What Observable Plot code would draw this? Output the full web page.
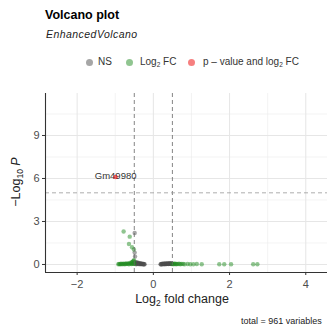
<!DOCTYPE html>
<html>
<head>
<meta charset="utf-8">
<script src="https://cdn.jsdelivr.net/npm/d3@7"></script>
<script src="https://cdn.jsdelivr.net/npm/@observablehq/plot@0.6"></script>
<style>
  html, body { margin: 0; padding: 0; background: #fff; }
  body { width: 327px; height: 330px; overflow: hidden; font-family: "Liberation Sans", Arial, sans-serif; }
  #head { position: relative; height: 78px; }
  #title { position: absolute; left: 45px; top: 9px; font-size: 12.5px; font-weight: bold; color: #000; line-height: 1; }
  #subtitle { position: absolute; left: 46px; top: 29px; font-size: 10.5px; font-style: italic; color: #222; letter-spacing: 0.45px; line-height: 1; }
  .lg { position: absolute; top: 57px; font-size: 10px; color: #333; line-height: 1; white-space: nowrap; }
  .dot { position: absolute; top: 59px; width: 7px; height: 7px; border-radius: 50%; }
  sub { font-size: 6.5px; vertical-align: -2px; line-height: 0; }
  #chart { height: 230px; }
  #cap { position: relative; height: 22px; }
  #caption { position: absolute; left: 241px; top: 9px; font-size: 9px; color: #222; white-space: nowrap; line-height: 1; }
</style>
</head>
<body>
<div id="head">
  <div id="title">Volcano plot</div>
  <div id="subtitle">EnhancedVolcano</div>
  <div class="dot" style="left:85.5px;background:rgba(77,77,77,0.5)"></div>
  <div class="lg" style="left:98px">NS</div>
  <div class="dot" style="left:126px;background:rgba(34,139,34,0.5)"></div>
  <div class="lg" style="left:140px">Log<sub>2</sub> FC</div>
  <div class="dot" style="left:188px;background:rgba(238,0,0,0.5)"></div>
  <div class="lg" style="left:203px">p – value and log<sub>2</sub> FC</div>
</div>
<div id="chart"></div>
<div id="cap"><div id="caption">total = 961 variables</div></div>
<script>
// ---- data ----
const nsX = [-0.49,-0.49,-0.48,-0.48,-0.47,-0.46,-0.45,-0.45,-0.44,-0.43,-0.42,-0.41,-0.40,-0.39,-0.38,-0.37,-0.36,-0.35,-0.34,-0.33,-0.32,-0.31,-0.30,-0.29,-0.28,-0.27,-0.26,-0.25,-0.24,-0.23,
  0.19,0.20,0.21,0.22,0.23,0.24,0.25,0.26,0.27,0.28,0.29,0.30,0.31,0.32,0.33,0.34,0.35,0.36,0.37,0.38,0.39,0.40,0.41,0.42,0.43,0.44,0.45,0.46,0.47,0.48,0.49];
const nsY = [2.20,0.83,0.55,0.12,0.05,0.18,0.08,0.02,0.10,0.04,0.14,0.06,0.09,0.03,0.11,0.05,0.08,0.02,0.07,0.04,0.06,0.03,0.05,0.02,0.04,0.03,0.02,0.03,0.01,0.02,
  0.01,0.02,0.03,0.02,0.04,0.03,0.05,0.02,0.04,0.06,0.03,0.05,0.02,0.07,0.04,0.06,0.03,0.05,0.08,0.04,0.06,0.03,0.07,0.05,0.09,0.04,0.06,0.08,0.03,0.05,0.07];
const fcX = [-0.92,-0.90,-0.88,-0.86,-0.84,-0.82,-0.80,-0.78,-0.76,-0.74,-0.72,-0.70,-0.68,-0.66,-0.64,-0.62,-0.60,-0.58,-0.57,-0.56,-0.55,-0.54,-0.53,-0.52,-0.51,-0.51,-0.50,
  -0.78,-0.62,-0.64,-0.56,-0.51,
  0.50,0.52,0.54,0.56,0.58,0.60,0.62,0.65,0.68,0.71,0.74,0.78,0.82,0.90,0.97,1.05,1.14,1.27,1.73,1.86,2.04,2.62,2.73];
const fcY = [0.02,0.04,0.01,0.03,0.05,0.02,0.04,0.06,0.02,0.05,0.03,0.08,0.04,0.06,0.02,0.10,0.05,0.12,0.03,0.15,0.07,0.20,0.04,0.25,0.09,0.30,0.05,
  2.30,1.94,1.43,1.20,1.04,
  0.04,0.02,0.06,0.03,0.05,0.02,0.04,0.03,0.05,0.02,0.04,0.03,0.02,0.03,0.02,0.02,0.03,0.02,0.02,0.02,0.02,0.02,0.02];
const sigX = [-0.99];
const sigY = [6.1];
const sigLabel = ["Gm49980"];

const fcCutoff = [-0.5, 0.5];
const pCutoff = [5];
const xDomain = [-2.83, 4.57];
const yDomain = [-0.56, 11.93];
const xTicks = [-2, 0, 2, 4];
const xMinor = [-1, 1, 3];
const yTicks = [0, 3, 6, 9];
const yMinor = [1.5, 4.5, 7.5, 10.5];

const ns = nsX.map((x, i) => ({x, y: nsY[i]}));
const fc = fcX.map((x, i) => ({x, y: fcY[i]}));
const sig = sigX.map((x, i) => ({x, y: sigY[i], label: sigLabel[i]}));

const grid = "#ebebeb";
const chart = Plot.plot({
  width: 327, height: 230,
  marginLeft: 45, marginRight: 0, marginTop: 15, marginBottom: 36,
  style: {fontFamily: "Liberation Sans, Arial, sans-serif", background: "#fff"},
  x: {domain: xDomain},
  y: {domain: yDomain},
  marks: [
    Plot.gridX(xMinor, {stroke: grid, strokeOpacity: 1, strokeWidth: 0.6}),
    Plot.gridY(yMinor, {stroke: grid, strokeOpacity: 1, strokeWidth: 0.6}),
    Plot.gridX(xTicks, {stroke: "#e6e6e6", strokeOpacity: 1, strokeWidth: 1}),
    Plot.gridY(yTicks, {stroke: "#e6e6e6", strokeOpacity: 1, strokeWidth: 1}),
    Plot.dot(ns, {x: "x", y: "y", r: 2.2, fill: "#4D4D4D", fillOpacity: 0.5, stroke: null}),
    Plot.dot(fc, {x: "x", y: "y", r: 2.2, fill: "#228B22", fillOpacity: 0.5, stroke: null}),
    Plot.ruleX(fcCutoff, {stroke: "#666", strokeWidth: 0.8, strokeDasharray: "4,3"}),
    Plot.ruleY(pCutoff, {stroke: "#999", strokeWidth: 0.8, strokeDasharray: "4,3"}),
    Plot.text(sig, {x: "x", y: "y", text: "label", fontSize: 9.5, fill: "#333", dy: -1}),
    Plot.dot(sig, {x: "x", y: "y", r: 2.2, fill: "#EE0000", fillOpacity: 0.6, stroke: null}),
    Plot.ruleX([xDomain[0]], {stroke: "#333", strokeWidth: 1.1}),
    Plot.ruleY([yDomain[0]], {stroke: "#333", strokeWidth: 1.1}),
    Plot.axisX(xTicks, {tickSize: 3, tickPadding: 5, stroke: "#333", fill: "#4D4D4D", fontSize: 11, label: null}),
    Plot.axisY(yTicks, {tickSize: 3, tickPadding: 3, stroke: "#333", fill: "#4D4D4D", fontSize: 11, label: null})
  ]
});
document.getElementById("chart").appendChild(chart);

// axis titles with subscripts
const svg = d3.select(chart);
const xt = svg.append("text")
  .attr("x", 45 + (327 - 45) / 2 - 4).attr("y", 225)
  .attr("text-anchor", "middle").attr("font-size", 12.5).attr("fill", "#222")
  .attr("font-family", "Liberation Sans, Arial, sans-serif");
xt.append("tspan").text("Log");
xt.append("tspan").attr("font-size", 8.5).attr("dy", 3).text("2");
xt.append("tspan").attr("dy", -3).text(" fold change");

const yt = svg.append("text")
  .attr("transform", "translate(20,104) rotate(-90)")
  .attr("text-anchor", "middle").attr("font-size", 12.5).attr("fill", "#222")
  .attr("font-family", "Liberation Sans, Arial, sans-serif");
yt.append("tspan").text("\u2212Log");
yt.append("tspan").attr("font-size", 8.5).attr("dy", 3).text("10");
yt.append("tspan").attr("dy", -3).text(" ");
yt.append("tspan").attr("font-style", "italic").text("P");
</script>
</body>
</html>
